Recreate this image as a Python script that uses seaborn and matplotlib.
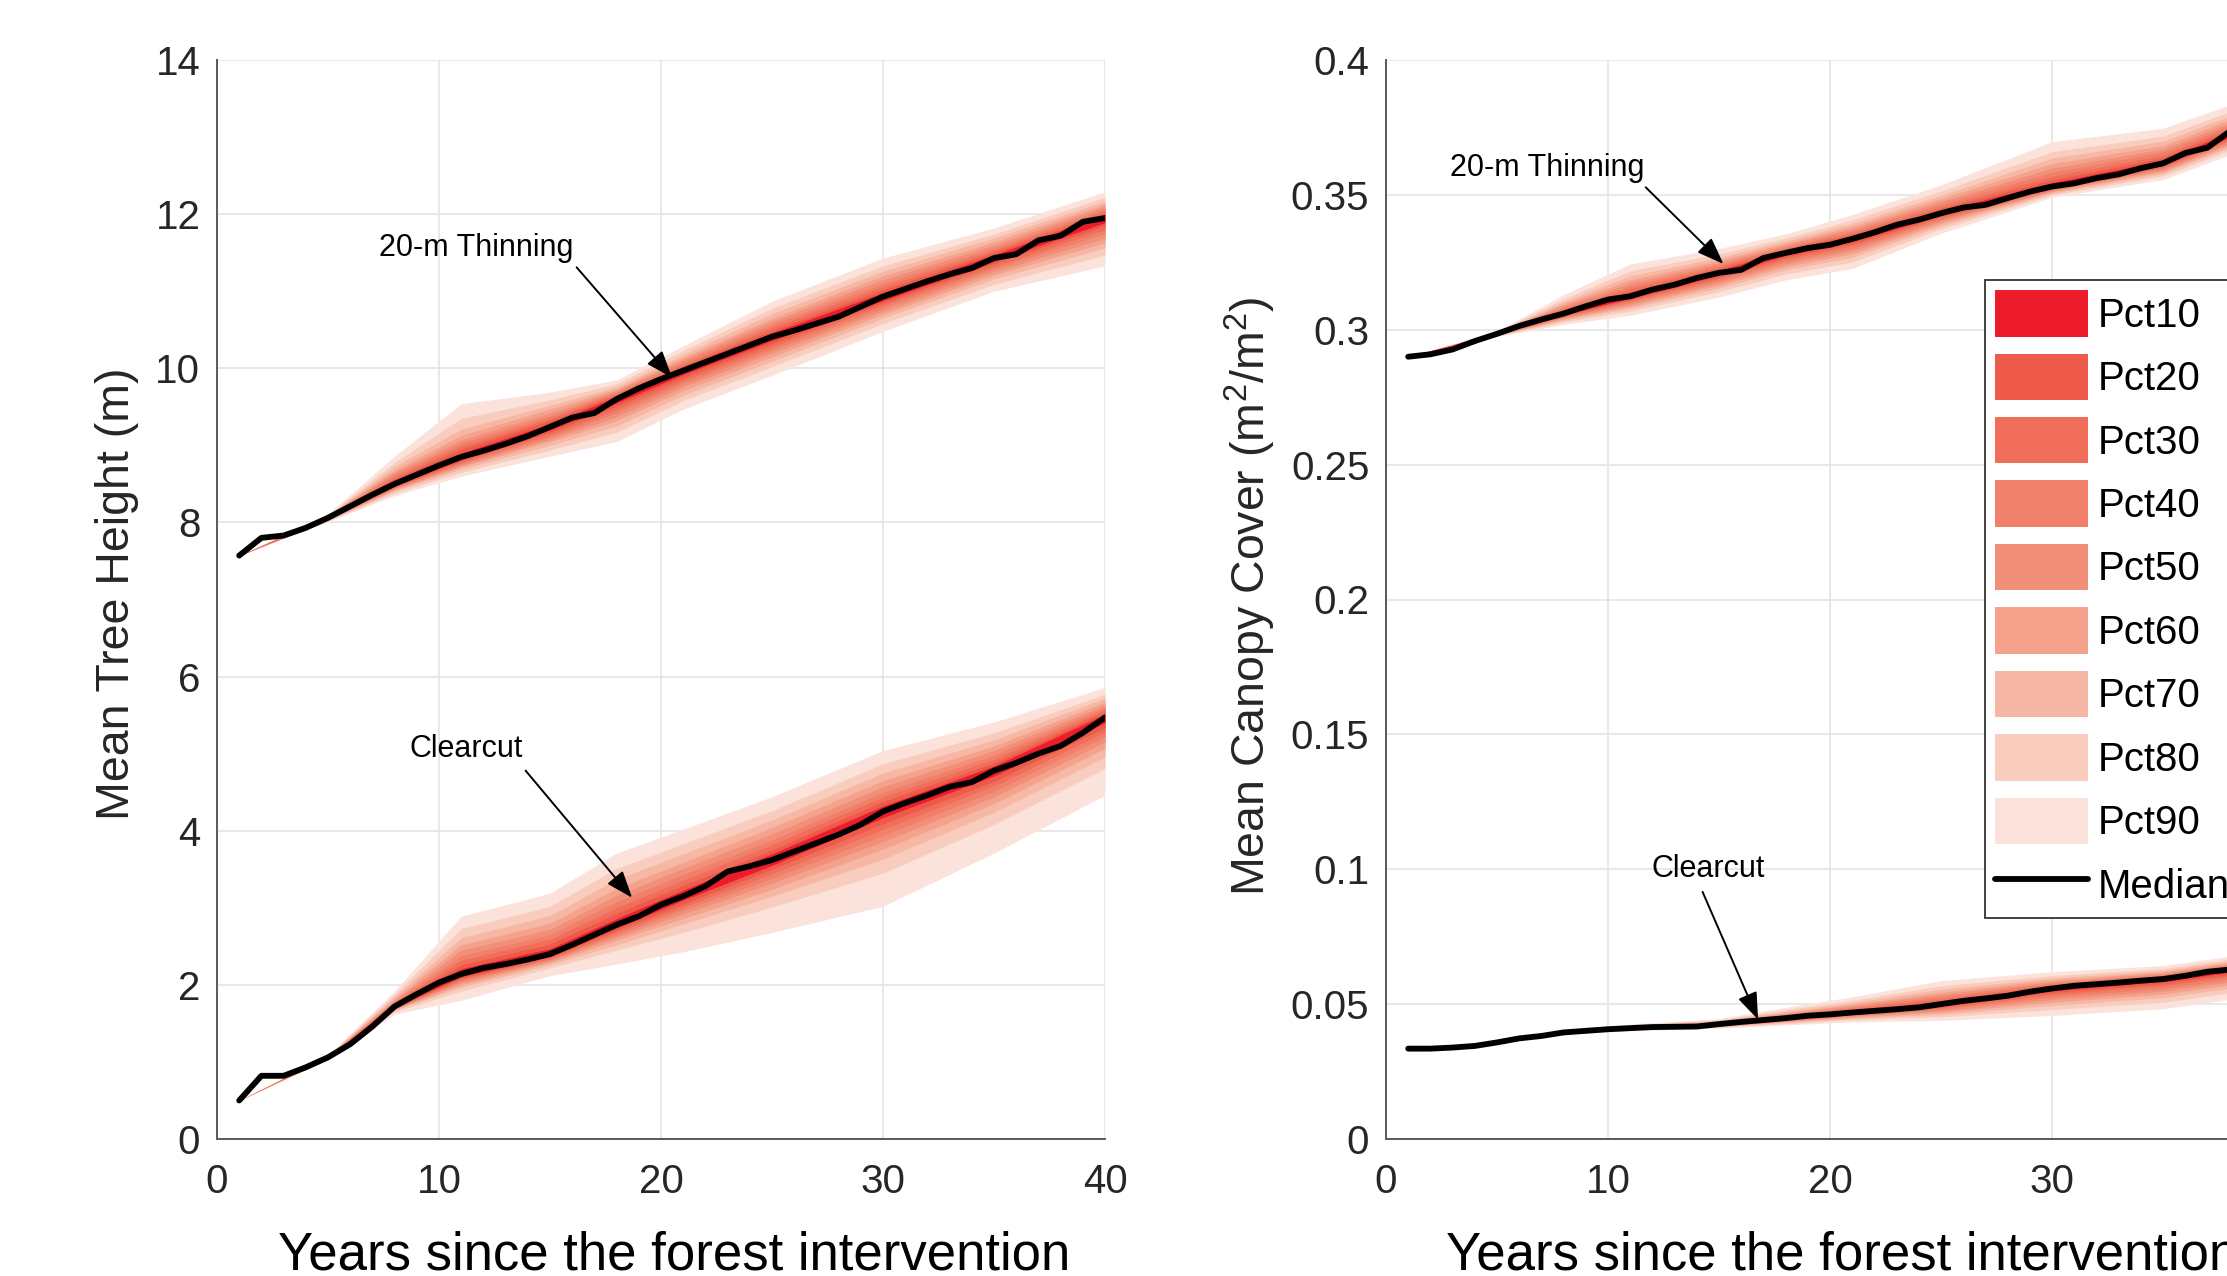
import numpy as np
import matplotlib
matplotlib.use("Agg")
import matplotlib.pyplot as plt
from matplotlib.patches import Patch
from matplotlib.lines import Line2D
import seaborn as sns

# ---------------- data ----------------
years = list(range(1, 41))
sample_years = [1, 5, 8, 11, 15, 18, 21, 25, 30, 35, 40]
levels = ["Pct10", "Pct20", "Pct30", "Pct40", "Pct50", "Pct60", "Pct70", "Pct80", "Pct90"]
level_colors = ["#EC1C2C", "#EE5A4A", "#F06E5A", "#F1806A", "#F28F78", "#F4A28C", "#F6B8A5", "#F9CDBE", "#FBE2DA"]

# Mean tree height (m) - median curves
h_thin_med = [7.57, 7.80, 7.83, 7.93, 8.06, 8.21, 8.36, 8.50, 8.62, 8.74,
              8.85, 8.93, 9.02, 9.12, 9.24, 9.36, 9.42, 9.60, 9.74, 9.86,
              9.97, 10.08, 10.19, 10.30, 10.41, 10.49, 10.58, 10.67, 10.80, 10.93,
              11.03, 11.13, 11.22, 11.30, 11.43, 11.48, 11.66, 11.72, 11.90, 11.95]
h_clear_med = [0.50, 0.82, 0.82, 0.93, 1.06, 1.23, 1.46, 1.72, 1.88, 2.03,
               2.14, 2.22, 2.27, 2.33, 2.40, 2.52, 2.65, 2.78, 2.89, 3.04,
               3.15, 3.28, 3.47, 3.54, 3.62, 3.73, 3.84, 3.95, 4.08, 4.25,
               4.36, 4.46, 4.57, 4.63, 4.78, 4.88, 5.00, 5.10, 5.27, 5.47]

# Mean canopy cover (m2/m2) - median curves
c_thin_med = [0.2900, 0.2909, 0.2927, 0.2958, 0.2985, 0.3014, 0.3038, 0.3060, 0.3087, 0.3112,
              0.3124, 0.3149, 0.3167, 0.3192, 0.3211, 0.3222, 0.3266, 0.3285, 0.3303, 0.3315,
              0.3337, 0.3361, 0.3389, 0.3408, 0.3432, 0.3453, 0.3463, 0.3488, 0.3512, 0.3531,
              0.3543, 0.3562, 0.3576, 0.3599, 0.3617, 0.3655, 0.3675, 0.3735, 0.3760, 0.3790]
c_clear_med = [0.0335, 0.0335, 0.0339, 0.0345, 0.0358, 0.0373, 0.0382, 0.0395, 0.0401, 0.0407,
               0.0411, 0.0415, 0.0416, 0.0417, 0.0426, 0.0434, 0.0441, 0.0448, 0.0457, 0.0462,
               0.0469, 0.0475, 0.0481, 0.0488, 0.0500, 0.0512, 0.0521, 0.0531, 0.0546, 0.0558,
               0.0568, 0.0574, 0.0580, 0.0587, 0.0593, 0.0605, 0.0620, 0.0628, 0.0638, 0.0650]

# band half-widths above / below the median at sample_years, one row per level (Pct10..Pct90)
h_thin_up = [
    [0.00, 0.00, 0.03, 0.05, 0.04, 0.03, 0.04, 0.05, 0.05, 0.04, 0.04],
    [0.00, 0.01, 0.06, 0.10, 0.08, 0.05, 0.06, 0.08, 0.09, 0.07, 0.06],
    [0.00, 0.01, 0.09, 0.14, 0.11, 0.07, 0.08, 0.12, 0.13, 0.10, 0.09],
    [0.00, 0.02, 0.12, 0.18, 0.14, 0.09, 0.11, 0.16, 0.17, 0.13, 0.12],
    [0.00, 0.02, 0.15, 0.22, 0.18, 0.11, 0.14, 0.20, 0.22, 0.17, 0.15],
    [0.00, 0.03, 0.18, 0.28, 0.23, 0.13, 0.17, 0.24, 0.27, 0.21, 0.18],
    [0.00, 0.03, 0.23, 0.36, 0.28, 0.16, 0.21, 0.30, 0.33, 0.26, 0.22],
    [0.00, 0.04, 0.28, 0.50, 0.35, 0.20, 0.26, 0.37, 0.40, 0.31, 0.27],
    [0.00, 0.05, 0.36, 0.69, 0.45, 0.25, 0.32, 0.46, 0.50, 0.39, 0.34]]
h_thin_lo = [
    [0.00, 0.00, 0.02, 0.03, 0.04, 0.05, 0.05, 0.05, 0.05, 0.04, 0.06],
    [0.00, 0.01, 0.03, 0.05, 0.07, 0.09, 0.09, 0.09, 0.08, 0.07, 0.10],
    [0.00, 0.01, 0.04, 0.07, 0.10, 0.14, 0.13, 0.13, 0.11, 0.11, 0.15],
    [0.00, 0.02, 0.05, 0.09, 0.13, 0.18, 0.17, 0.17, 0.15, 0.14, 0.20],
    [0.00, 0.02, 0.06, 0.11, 0.16, 0.23, 0.21, 0.21, 0.19, 0.18, 0.26],
    [0.00, 0.03, 0.08, 0.13, 0.19, 0.28, 0.26, 0.26, 0.23, 0.22, 0.32],
    [0.00, 0.03, 0.09, 0.16, 0.24, 0.35, 0.32, 0.32, 0.28, 0.27, 0.39],
    [0.00, 0.04, 0.12, 0.20, 0.30, 0.43, 0.39, 0.39, 0.35, 0.34, 0.48],
    [0.00, 0.05, 0.15, 0.25, 0.38, 0.55, 0.50, 0.50, 0.45, 0.43, 0.62]]
h_clear_up = [
    [0.00, 0.00, 0.02, 0.07, 0.07, 0.08, 0.08, 0.08, 0.07, 0.06, 0.04],
    [0.00, 0.00, 0.04, 0.12, 0.13, 0.15, 0.14, 0.13, 0.13, 0.10, 0.07],
    [0.00, 0.01, 0.05, 0.18, 0.19, 0.22, 0.21, 0.20, 0.19, 0.15, 0.10],
    [0.00, 0.01, 0.06, 0.24, 0.25, 0.30, 0.28, 0.26, 0.25, 0.20, 0.13],
    [0.00, 0.01, 0.08, 0.31, 0.32, 0.38, 0.36, 0.34, 0.32, 0.26, 0.16],
    [0.00, 0.02, 0.10, 0.38, 0.40, 0.47, 0.44, 0.42, 0.40, 0.32, 0.20],
    [0.00, 0.02, 0.13, 0.47, 0.50, 0.59, 0.55, 0.52, 0.50, 0.40, 0.25],
    [0.00, 0.02, 0.16, 0.59, 0.62, 0.73, 0.68, 0.64, 0.62, 0.49, 0.30],
    [0.00, 0.03, 0.20, 0.75, 0.79, 0.93, 0.87, 0.82, 0.79, 0.63, 0.39]]
h_clear_lo = [
    [0.00, 0.00, 0.01, 0.03, 0.03, 0.04, 0.05, 0.07, 0.08, 0.07, 0.07],
    [0.00, 0.00, 0.02, 0.05, 0.04, 0.07, 0.10, 0.12, 0.16, 0.14, 0.13],
    [0.00, 0.01, 0.02, 0.07, 0.06, 0.10, 0.14, 0.18, 0.23, 0.20, 0.19],
    [0.00, 0.01, 0.03, 0.09, 0.07, 0.13, 0.18, 0.24, 0.31, 0.27, 0.25],
    [0.00, 0.01, 0.03, 0.11, 0.09, 0.16, 0.23, 0.30, 0.39, 0.34, 0.32],
    [0.00, 0.01, 0.04, 0.14, 0.11, 0.20, 0.29, 0.38, 0.49, 0.43, 0.40],
    [0.00, 0.02, 0.05, 0.17, 0.14, 0.26, 0.36, 0.47, 0.62, 0.54, 0.51],
    [0.00, 0.02, 0.07, 0.22, 0.18, 0.33, 0.47, 0.61, 0.80, 0.70, 0.66],
    [0.00, 0.03, 0.10, 0.34, 0.28, 0.51, 0.72, 0.94, 1.23, 1.07, 1.01]]

c_thin_up = [
    [0, 0.0001, 0.0006, 0.0010, 0.0008, 0.0007, 0.0008, 0.0009, 0.0014, 0.0011, 0.0009],
    [0, 0.0002, 0.0011, 0.0018, 0.0014, 0.0011, 0.0014, 0.0016, 0.0025, 0.0020, 0.0015],
    [0, 0.0002, 0.0016, 0.0028, 0.0021, 0.0016, 0.0021, 0.0024, 0.0038, 0.0030, 0.0023],
    [0, 0.0003, 0.0022, 0.0038, 0.0029, 0.0022, 0.0029, 0.0034, 0.0053, 0.0042, 0.0032],
    [0, 0.0004, 0.0029, 0.0049, 0.0037, 0.0029, 0.0037, 0.0043, 0.0068, 0.0053, 0.0041],
    [0, 0.0005, 0.0036, 0.0061, 0.0046, 0.0036, 0.0046, 0.0054, 0.0085, 0.0066, 0.0051],
    [0, 0.0006, 0.0044, 0.0076, 0.0057, 0.0044, 0.0057, 0.0066, 0.0105, 0.0082, 0.0063],
    [0, 0.0008, 0.0055, 0.0094, 0.0070, 0.0055, 0.0070, 0.0082, 0.0129, 0.0101, 0.0078],
    [0, 0.0010, 0.0070, 0.0120, 0.0090, 0.0070, 0.0090, 0.0105, 0.0166, 0.0130, 0.0100]]
c_thin_lo = [
    [0, 0.0001, 0.0004, 0.0007, 0.0008, 0.0009, 0.0010, 0.0007, 0.0004, 0.0006, 0.0007],
    [0, 0.0002, 0.0006, 0.0011, 0.0014, 0.0015, 0.0017, 0.0011, 0.0006, 0.0009, 0.0012],
    [0, 0.0002, 0.0009, 0.0016, 0.0021, 0.0023, 0.0025, 0.0017, 0.0009, 0.0014, 0.0018],
    [0, 0.0003, 0.0013, 0.0022, 0.0029, 0.0032, 0.0035, 0.0024, 0.0013, 0.0019, 0.0026],
    [0, 0.0004, 0.0016, 0.0029, 0.0037, 0.0041, 0.0045, 0.0030, 0.0016, 0.0025, 0.0033],
    [0, 0.0005, 0.0020, 0.0036, 0.0046, 0.0051, 0.0056, 0.0038, 0.0020, 0.0031, 0.0041],
    [0, 0.0006, 0.0025, 0.0044, 0.0057, 0.0063, 0.0069, 0.0047, 0.0025, 0.0038, 0.0050],
    [0, 0.0008, 0.0031, 0.0055, 0.0070, 0.0078, 0.0086, 0.0058, 0.0031, 0.0047, 0.0062],
    [0, 0.0010, 0.0040, 0.0070, 0.0090, 0.0100, 0.0110, 0.0074, 0.0040, 0.0060, 0.0080]]
c_clear_up = [
    [0, 0, 0.00004, 0.0001, 0.0002, 0.0003, 0.0005, 0.0007, 0.0005, 0.0004, 0.0004],
    [0, 0, 0.0001, 0.0002, 0.0003, 0.0006, 0.0009, 0.0013, 0.0009, 0.0008, 0.0008],
    [0, 0, 0.0001, 0.0003, 0.0005, 0.0009, 0.0013, 0.0020, 0.0014, 0.0012, 0.0012],
    [0, 0, 0.0002, 0.0005, 0.0006, 0.0013, 0.0019, 0.0028, 0.0020, 0.0016, 0.0016],
    [0, 0, 0.0002, 0.0006, 0.0008, 0.0016, 0.0024, 0.0036, 0.0025, 0.0021, 0.0021],
    [0, 0, 0.0003, 0.0008, 0.0010, 0.0020, 0.0030, 0.0044, 0.0032, 0.0026, 0.0026],
    [0, 0, 0.0003, 0.0009, 0.0013, 0.0025, 0.0037, 0.0055, 0.0039, 0.0032, 0.0032],
    [0, 0, 0.0004, 0.0012, 0.0016, 0.0031, 0.0045, 0.0068, 0.0048, 0.0039, 0.0039],
    [0, 0, 0.0005, 0.0015, 0.0020, 0.0040, 0.0058, 0.0087, 0.0062, 0.0050, 0.0050]]
c_clear_lo = [
    [0, 0, 0.00004, 0.0001, 0.0001, 0.0002, 0.0003, 0.0005, 0.0008, 0.0009, 0.0009],
    [0, 0, 0.0001, 0.0002, 0.0002, 0.0004, 0.0005, 0.0009, 0.0015, 0.0017, 0.0017],
    [0, 0, 0.0001, 0.0002, 0.0003, 0.0006, 0.0008, 0.0014, 0.0023, 0.0025, 0.0025],
    [0, 0, 0.0002, 0.0003, 0.0005, 0.0008, 0.0011, 0.0019, 0.0032, 0.0035, 0.0035],
    [0, 0, 0.0002, 0.0004, 0.0006, 0.0010, 0.0014, 0.0025, 0.0041, 0.0045, 0.0045],
    [0, 0, 0.0003, 0.0005, 0.0008, 0.0013, 0.0018, 0.0031, 0.0051, 0.0056, 0.0056],
    [0, 0, 0.0003, 0.0006, 0.0009, 0.0016, 0.0022, 0.0038, 0.0063, 0.0069, 0.0069],
    [0, 0, 0.0004, 0.0008, 0.0012, 0.0020, 0.0027, 0.0047, 0.0078, 0.0086, 0.0086],
    [0, 0, 0.0005, 0.0010, 0.0015, 0.0025, 0.0035, 0.0060, 0.0100, 0.0110, 0.0110]]

x_ticks = [0, 10, 20, 30, 40]
h_yticks = [0, 2, 4, 6, 8, 10, 12, 14]
c_yticks = [0, 0.05, 0.1, 0.15, 0.2, 0.25, 0.3, 0.35, 0.4]
c_yticklabels = ["0", "0.05", "0.1", "0.15", "0.2", "0.25", "0.3", "0.35", "0.4"]

# ---------------- style ----------------
sns.set_theme(style="white")
plt.rcParams["font.family"] = ["Liberation Sans", "DejaVu Sans"]
plt.rcParams["mathtext.fontset"] = "custom"
plt.rcParams["mathtext.rm"] = "Liberation Sans"
plt.rcParams["mathtext.it"] = "Liberation Sans"
plt.rcParams["mathtext.default"] = "regular"

W, H = 2227, 1276
fig = plt.figure(figsize=(W / 100, H / 100), dpi=100)
fig.patch.set_facecolor("white")

ax_l = fig.add_axes([217 / W, 1 - 1139 / H, 888 / W, 1079 / H])
ax_r = fig.add_axes([1386 / W, 1 - 1139 / H, 888 / W, 1079 / H])

AXC = "#5a5a5a"
TXC = "#262626"


def draw_bands(ax, med, up, lo):
    idx = [y - 1 for y in sample_years]
    med_s = np.array([med[i] for i in idx])
    for k in range(len(levels) - 1, -1, -1):
        ax.fill_between(sample_years, med_s - np.array(lo[k]), med_s + np.array(up[k]),
                        color=level_colors[k], linewidth=0, zorder=2)
    sns.lineplot(x=years, y=med, ax=ax, color="black", linewidth=4.2, zorder=5, legend=False)


def style_axes(ax, yticks, ylim):
    ax.set_xlim(0, 40)
    ax.set_ylim(*ylim)
    ax.set_xticks(x_ticks)
    ax.set_yticks(yticks)
    ax.set_axisbelow(True)
    ax.grid(True, color="#e4e4e4", linewidth=1.2)
    for s in ["top", "right"]:
        ax.spines[s].set_visible(False)
    for s in ["left", "bottom"]:
        ax.spines[s].set_color(AXC)
        ax.spines[s].set_linewidth(1.4)
    ax.tick_params(axis="both", direction="in", length=8.5, width=1.2, color=AXC,
                   labelsize=29, labelcolor=TXC)
    ax.tick_params(axis="x", pad=17)
    ax.tick_params(axis="y", pad=12)
    ax.set_xlabel("")


# left panel
draw_bands(ax_l, h_thin_med, h_thin_up, h_thin_lo)
draw_bands(ax_l, h_clear_med, h_clear_up, h_clear_lo)
style_axes(ax_l, h_yticks, (0, 14))
ax_l.set_yticklabels([str(v) for v in h_yticks])
ax_l.set_ylabel("Mean Tree Height (m)", fontsize=33.5, color=TXC)
ax_l.yaxis.set_label_coords(-0.088, 0.505)

# right panel
draw_bands(ax_r, c_thin_med, c_thin_up, c_thin_lo)
draw_bands(ax_r, c_clear_med, c_clear_up, c_clear_lo)
style_axes(ax_r, c_yticks, (0, 0.4))
ax_r.set_yticklabels(c_yticklabels)
ax_r.set_ylabel("Mean Canopy Cover (m$^2$/m$^2$)", fontsize=33.5, color=TXC)
ax_r.yaxis.set_label_coords(-0.122, 0.503)

# annotations
arrow_kw = dict(arrowstyle="-|>,head_length=0.75,head_width=0.28", color="black",
                lw=1.4, mutation_scale=22, shrinkA=0, shrinkB=0)


def label_arrow(ax, text, text_xy, start, tip):
    ax.text(text_xy[0], text_xy[1], text, fontsize=22, ha="right", va="bottom",
            color="black", zorder=8)
    ax.annotate("", xy=tip, xytext=start, arrowprops=arrow_kw, zorder=8)


label_arrow(ax_l, "20-m Thinning", (16.05, 11.36), (16.2, 11.31), (20.5, 9.88))
label_arrow(ax_l, "Clearcut", (13.8, 4.86), (13.9, 4.78), (18.7, 3.13))
label_arrow(ax_r, "20-m Thinning", (11.65, 0.3545), (11.7, 0.3528), (15.2, 0.3244))
label_arrow(ax_r, "Clearcut", (17.05, 0.0945), (14.26, 0.0916), (16.76, 0.0443))

# legend
handles = [Patch(facecolor=c, edgecolor="none") for c in level_colors]
handles.append(Line2D([0], [0], color="black", lw=4.2))
leg = fig.legend(handles, levels + ["Median"], loc="upper left",
                 bbox_to_anchor=(1985 / W, 1 - 280 / H), bbox_transform=fig.transFigure,
                 fontsize=29, frameon=True, fancybox=False, framealpha=1,
                 edgecolor="#333333", borderpad=0.25, labelspacing=0.42,
                 handlelength=2.3, handleheight=1.4, handletextpad=0.25,
                 borderaxespad=0)
leg.get_frame().set_linewidth(1.3)
for t in leg.get_texts():
    t.set_color("black")

# x labels
fig.text(278 / W, 1 - 1270 / H, "Years since the forest intervention", fontsize=38,
         ha="left", va="baseline", color="black")
fig.text(1446 / W, 1 - 1270 / H, "Years since the forest intervention", fontsize=38,
         ha="left", va="baseline", color="black")

fig.savefig("out.png", dpi=100, facecolor="white")
